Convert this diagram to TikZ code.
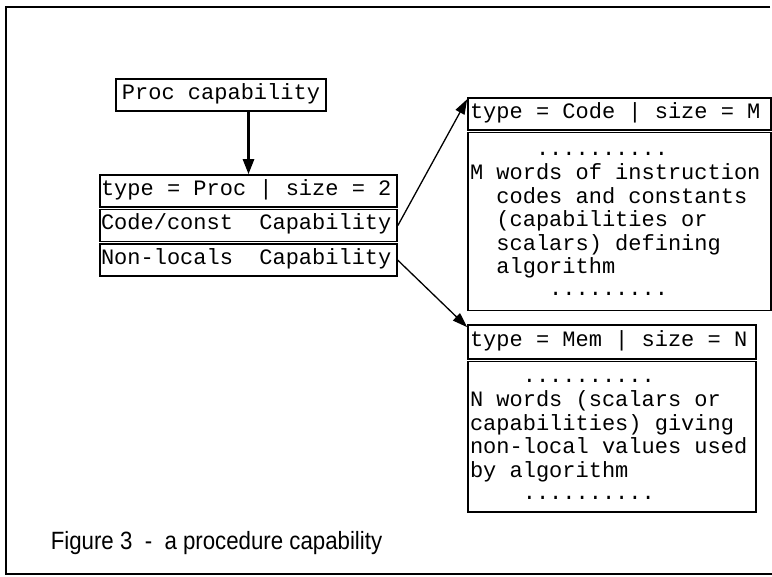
\documentclass[tikz,border=0pt]{standalone}
\usepackage{fontspec}
\setmainfont{Liberation Sans}
\setmonofont{Liberation Mono}
\usetikzlibrary{positioning}
\usetikzlibrary{arrows.meta}
\newcommand{\boxfont}{\ttfamily\fontsize{22}{22}\selectfont}
\newcommand{\fullspaces}{\spaceskip=0pt\relax\xspaceskip=0pt\relax}

\begin{document}
\begin{tikzpicture}[x=1pt, y=-1pt,
every node/.style = {draw, line width=1.6pt, inner xsep=1pt, inner ysep=5pt,
  font=\boxfont},
cell/.style = {text height=15.4pt, text depth=6.6pt},
row/.style = {cell, text width=295pt, align=flush left},
body/.style = {inner xsep=2pt, inner ysep=6pt, align=flush left},
ptr/.style = {-{Triangle[length=15pt, width=10pt]}, line width=1.3pt},
caption/.style = {draw=none, anchor=base west, inner sep=0pt,
  font=\fontsize{25}{25}\selectfont}
]
\useasboundingbox (0,0) rectangle (772,577);
\draw[line width=1.6pt] (770,7) -- (6,7) -- (6,574) -- (772,574);

\node[cell, minimum width=210pt, inner xsep=4pt] (proc) at (221,95) {Proc capability};
\node[row] (hdr) at (248.5,191) {\fullspaces type = Proc | size = 2};
\node[row, below=1pt of hdr] (code) {\fullspaces Code/const~~Capability};
\node[row, below=1pt of code] (nonloc) {\fullspaces Non-locals~~Capability};

\node[cell, text width=299pt, align=flush left, inner xsep=2pt] (codehdr) at (619.5,114)
  {\fullspaces type = Code | size = M};
\node[body, text width=299pt, inner ysep=8pt, below=1pt of codehdr] (codebody)
  {\fullspaces\strut\hspace*{3em}..........\\
   \strut M words of instruction\\
   \strut\hspace*{1.2em}codes and constants\\
   \strut\hspace*{1.2em}(capabilities or\\
   \strut\hspace*{1.2em}scalars) defining\\
   \strut\hspace*{1.2em}algorithm\\
   \strut\hspace*{3.6em}.........};

\node[cell, text width=284pt, align=flush left, inner xsep=2pt, inner ysep=6pt] (memhdr) at (612,342)
  {\fullspaces type = Mem | size = N};
\node[body, text width=284pt, below=1pt of memhdr] (membody)
  {\fullspaces\strut\hspace*{2.4em}..........\\
   \strut N words (scalars or\\
   \strut capabilities) giving\\
   \strut non-local values used\\
   \strut by algorithm\\
   \strut\hspace*{2.4em}..........};

\draw[ptr, line width=2.6pt, -{Triangle[length=15pt, width=11pt]}] (hdr.north |- proc.south) -- (hdr.north);
\draw[ptr] (code.east) -- ([yshift=-2pt]codehdr.north west);
\draw[ptr] (nonloc.east) -- ([yshift=-3pt]memhdr.north west);

\node[caption] (caption) at (50,550) {\scalebox{0.89}[1]{Figure 3~~-~~a procedure capability}};
\end{tikzpicture}
\end{document}
